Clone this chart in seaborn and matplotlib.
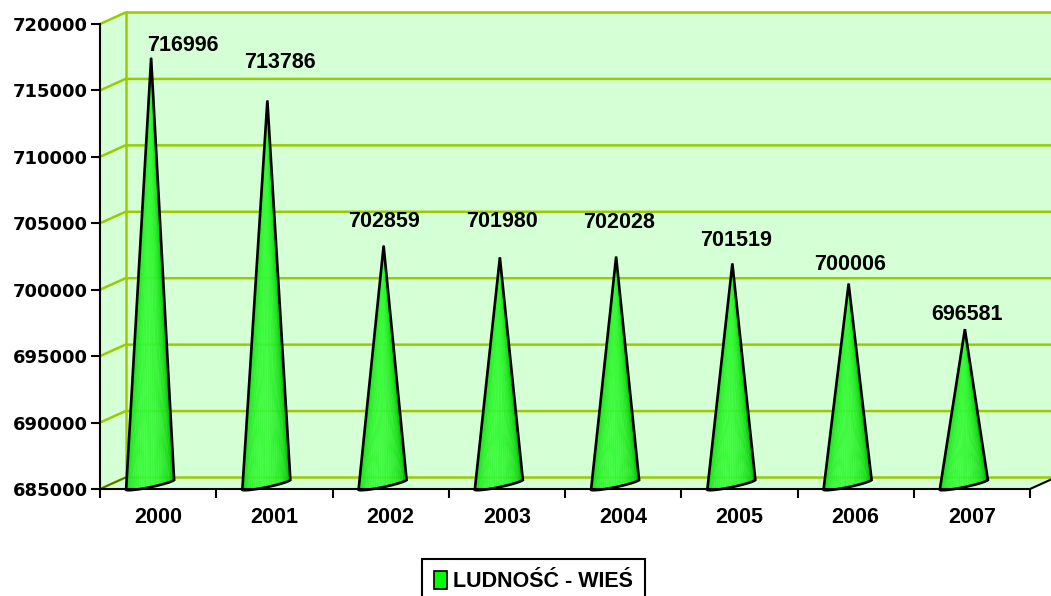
import numpy as np
import pandas as pd
import matplotlib
matplotlib.use("Agg")
import matplotlib.pyplot as plt
import seaborn as sns
from matplotlib.patches import Polygon, Patch
from matplotlib.colors import LinearSegmentedColormap

# === data ===
years = ["2000", "2001", "2002", "2003", "2004", "2005", "2006", "2007"]
population = [716996, 713786, 702859, 701980, 702028, 701519, 700006, 696581]
series_name = "LUDNOŚĆ - WIEŚ"
y_ticks = list(range(685000, 720001, 5000))

# label centre relative to cone tip, in pixels (right, up) - as placed in the original
label_shift = [(32, 12), (13, 38), (0, 24), (2, 36), (3, 34), (4, 23), (1, 19), (2, 15)]

df = pd.DataFrame({"rok": years, "ludnosc": population})

sns.set_style("white")
plt.rcParams["font.family"] = ["Liberation Sans", "DejaVu Sans"]
plt.rcParams["font.weight"] = "bold"
plt.rcParams["text.color"] = "black"
plt.rcParams["xtick.color"] = "black"
plt.rcParams["ytick.color"] = "black"

W, H = 1051, 596
fig = plt.figure(figsize=(W / 100, H / 100), dpi=100)
ax = fig.add_axes([100 / W, 107 / H, 930 / W, 465 / H])

sns.barplot(data=df, x="rok", y="ludnosc", ax=ax, width=0.4, color="#00ff00")
bars = list(ax.patches)
x0, x1 = -0.5, 7.5
y0, y1 = 685000, 720000
ax.set_xlim(x0, x1)
ax.set_ylim(y0, y1)

# pixel -> data conversion (fixed axes size)
sx = 930 / 8
sy = 465 / (y1 - y0)


def px(x, y, dx, dy):
    return (x + dx / sx, y + dy / sy)


DX, DY = 25.5, 11.5


def back(x, y):
    return px(x, y, DX, DY)


wall_face = "#d5ffd5"
grid_col = "#99cc00"

# walls and floor
ax.add_patch(Polygon([back(x0, y0), back(x1, y0), back(x1, y1), back(x0, y1)],
                     facecolor=wall_face, edgecolor="none", clip_on=False, zorder=0.5))
ax.add_patch(Polygon([(x0, y0), (x0, y1), back(x0, y1), back(x0, y0)],
                     facecolor=wall_face, edgecolor="none", clip_on=False, zorder=0.5))
ax.add_patch(Polygon([(x0, y0), (x1, y0), back(x1, y0), back(x0, y0)],
                     facecolor=wall_face, edgecolor="none", clip_on=False, zorder=0.5))

for v in y_ticks:
    bx0, by = back(x0, v)
    bx1, _ = back(x1, v)
    ax.plot([x0, bx0, bx1], [v, by, by], color=grid_col, lw=1.8,
            clip_on=False, zorder=0.6, solid_capstyle="butt")
ax.plot([back(x0, y0)[0]] * 2, [back(x0, y0)[1], back(x0, y1)[1]],
        color=grid_col, lw=1.8, clip_on=False, zorder=0.6)
ax.plot([x0, back(x0, y0)[0]], [y0, back(x0, y0)[1]], color="#556600", lw=1.2,
        clip_on=False, zorder=0.7)
ax.plot([x1, back(x1, y0)[0]], [y0, back(x1, y0)[1]], color="black", lw=1.5,
        clip_on=False, zorder=3)

# === cones built from the bar geometry ===
cone_cmap = LinearSegmentedColormap.from_list("cone", ["#008f00", "#14d814", "#3cff3c"])
s = np.linspace(0, np.pi, 61)
arc_dx = -8 - 24 * np.cos(s) - 4 * np.sin(s)
arc_dy = 4.5 - 4.5 * np.cos(s) - 3.5 * np.sin(s)

for i, p in enumerate(bars):
    cx = p.get_x() + p.get_width() / 2
    top = p.get_height()
    p.remove()
    apex = px(cx, top, -7, 6)
    arc = [px(cx, y0, dx, dy) for dx, dy in zip(arc_dx, arc_dy)]
    for k in range(len(arc) - 1):
        sm = 0.5 * (s[k] + s[k + 1])
        shade = np.sin(sm) ** 0.8 * (0.9 if k % 2 else 1.0)
        col = cone_cmap(shade)
        ax.add_patch(Polygon([apex, arc[k], arc[k + 1]], facecolor=col, edgecolor=col,
                             lw=0.3, alpha=0.92, clip_on=False, zorder=2))
    ax.add_patch(Polygon([apex] + arc, closed=True, facecolor="none", edgecolor="black",
                         lw=1.9, joinstyle="miter", clip_on=False, zorder=2.2))
    ldx, ldy = label_shift[i]
    ax.annotate(str(population[i]), xy=apex, xytext=(ldx * 0.72, ldy * 0.72),
                textcoords="offset points", ha="center", va="center",
                fontsize=15.5, fontweight="bold", color="black", zorder=4)

# === axes styling ===
ax.set_facecolor("none")
ax.set_xlabel("")
ax.set_ylabel("")
for side in ["top", "right"]:
    ax.spines[side].set_visible(False)
for side in ["left", "bottom"]:
    ax.spines[side].set_color("black")
    ax.spines[side].set_linewidth(1.5)
    ax.spines[side].set_zorder(3)

ax.set_yticks(y_ticks)
ax.set_yticklabels([str(v) for v in y_ticks], fontsize=13, fontweight="bold",
                   family=["DejaVu Sans"], color="black")
ax.tick_params(axis="y", left=True, length=6.5, width=1.5, pad=2.5, color="black")

ax.set_xticks(range(len(years)))
ax.set_xticklabels(years, fontsize=15.5, fontweight="bold", color="black")
ax.set_xticks(np.arange(x0, x1 + 0.01, 1), minor=True)
ax.tick_params(axis="x", which="major", bottom=True, length=0, pad=13)
ax.tick_params(axis="x", which="minor", bottom=True, length=6.5, width=1.5, color="black")

leg = fig.legend(handles=[Patch(facecolor="#00ff00", edgecolor="black", lw=1.2)],
                 labels=[series_name], loc="upper left",
                 bbox_to_anchor=(422 / W, 1 - 559 / H), frameon=True, fancybox=False,
                 edgecolor="black", handlelength=0.6, handleheight=0.9,
                 handletextpad=0.3, borderpad=0.55, borderaxespad=0,
                 prop={"weight": "bold", "size": 15.5})
leg.get_frame().set_linewidth(1.5)
leg.get_frame().set_alpha(None)
for t in leg.get_texts():
    t.set_color("black")

fig.savefig("out.png", dpi=100)
